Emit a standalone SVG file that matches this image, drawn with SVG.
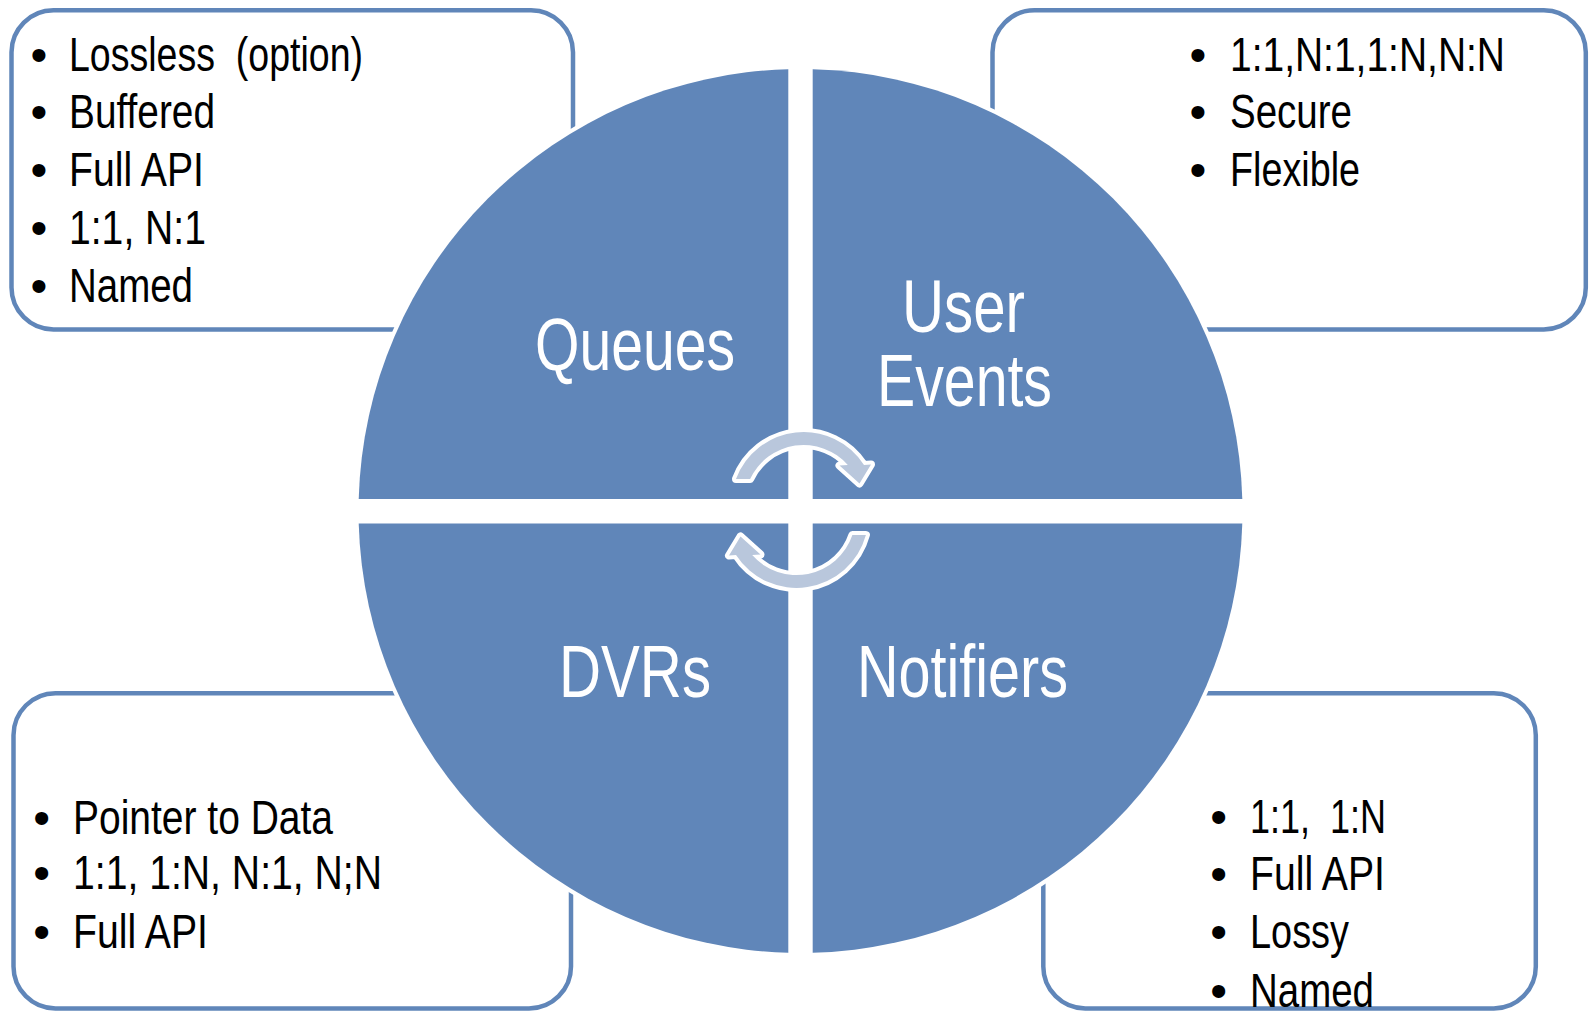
<svg xmlns="http://www.w3.org/2000/svg" width="1591" height="1013" viewBox="0 0 1591 1013">
<style>
.box{fill:#ffffff;stroke:#6086B9;stroke-width:4.5}
.quad{fill:#6086B9;stroke:#ffffff;stroke-width:8;paint-order:stroke}
.t{font-family:"Liberation Sans Narrow","Arial Narrow","Liberation Sans",Arial,sans-serif;font-size:49px;fill:#000000;white-space:pre}
.b{font-family:"Liberation Sans",Arial,sans-serif;font-size:48px;fill:#000000;text-anchor:middle}
.lbl{font-family:"Liberation Sans Narrow","Arial Narrow","Liberation Sans",Arial,sans-serif;font-size:75px;fill:#ffffff;text-anchor:middle}
.arr{fill:#B9C7DC;stroke:#ffffff;stroke-width:8;paint-order:stroke;stroke-linejoin:round}
</style>
<rect x="0" y="0" width="1591" height="1013" fill="#ffffff"/>

<g id="box-queues">
<rect class="box" x="11.5" y="10.3" width="561.5" height="319.2" rx="42" ry="42"/>
<text class="b" x="39" y="71">•</text><text class="t" x="69" y="71" textLength="294" lengthAdjust="spacingAndGlyphs">Lossless  (option)</text>
<text class="b" x="39" y="128">•</text><text class="t" x="69" y="128" textLength="146" lengthAdjust="spacingAndGlyphs">Buffered</text>
<text class="b" x="39" y="185.5">•</text><text class="t" x="69" y="185.5" textLength="135" lengthAdjust="spacingAndGlyphs">Full API</text>
<text class="b" x="39" y="244">•</text><text class="t" x="69" y="244" textLength="137" lengthAdjust="spacingAndGlyphs">1:1, N:1</text>
<text class="b" x="39" y="301.5">•</text><text class="t" x="69" y="301.5" textLength="124" lengthAdjust="spacingAndGlyphs">Named</text>
</g>

<g id="box-userevents">
<rect class="box" x="992.5" y="10.3" width="593.3" height="319.2" rx="42" ry="42"/>
<text class="b" x="1198" y="71">•</text><text class="t" x="1230" y="71" textLength="275" lengthAdjust="spacingAndGlyphs">1:1,N:1,1:N,N:N</text>
<text class="b" x="1198" y="128">•</text><text class="t" x="1230" y="128" textLength="122" lengthAdjust="spacingAndGlyphs">Secure</text>
<text class="b" x="1198" y="185.5">•</text><text class="t" x="1230" y="185.5" textLength="130" lengthAdjust="spacingAndGlyphs">Flexible</text>
</g>

<g id="box-dvrs">
<rect class="box" x="13.5" y="693.2" width="557.5" height="315.2" rx="42" ry="42"/>
<text class="b" x="41.6" y="834">•</text><text class="t" x="73" y="834" textLength="260" lengthAdjust="spacingAndGlyphs">Pointer to Data</text>
<text class="b" x="41.6" y="889">•</text><text class="t" x="73" y="889" textLength="309" lengthAdjust="spacingAndGlyphs">1:1, 1:N, N:1, N;N</text>
<text class="b" x="41.6" y="948">•</text><text class="t" x="73" y="948" textLength="135" lengthAdjust="spacingAndGlyphs">Full API</text>
</g>

<g id="box-notifiers">
<rect class="box" x="1043.3" y="693.2" width="492.5" height="315.2" rx="42" ry="42"/>
<text class="b" x="1218.6" y="833">•</text><text class="t" x="1250" y="833" textLength="136" lengthAdjust="spacingAndGlyphs">1:1,  1:N</text>
<text class="b" x="1218.6" y="890">•</text><text class="t" x="1250" y="890" textLength="135" lengthAdjust="spacingAndGlyphs">Full API</text>
<text class="b" x="1218.6" y="948">•</text><text class="t" x="1250" y="948" textLength="99" lengthAdjust="spacingAndGlyphs">Lossy</text>
<text class="b" x="1218.6" y="1006.5">•</text><text class="t" x="1250" y="1006.5" textLength="124" lengthAdjust="spacingAndGlyphs">Named</text>
</g>

<g id="node-queues">
<path class="quad" d="M 788.3,499 L 788.3,69.2 A 442 442 0 0 0 358.7,499 Z"/>
<text class="lbl" x="635" y="370" textLength="200" lengthAdjust="spacingAndGlyphs">Queues</text>
</g>
<g id="node-userevents">
<path class="quad" d="M 812.7,499 L 1242.3,499 A 442 442 0 0 0 812.7,69.2 Z"/>
<text class="lbl" x="963.5" y="332" textLength="123" lengthAdjust="spacingAndGlyphs">User</text>
<text class="lbl" x="964.5" y="406" textLength="175" lengthAdjust="spacingAndGlyphs">Events</text>
</g>
<g id="node-dvrs">
<path class="quad" d="M 788.3,523.5 L 358.7,523.5 A 442 442 0 0 0 788.3,952.8 Z"/>
<text class="lbl" x="635" y="697" textLength="152" lengthAdjust="spacingAndGlyphs">DVRs</text>
</g>
<g id="node-notifiers">
<path class="quad" d="M 812.7,523.5 L 812.7,952.8 A 442 442 0 0 0 1242.3,523.5 Z"/>
<text class="lbl" x="962.5" y="697" textLength="211" lengthAdjust="spacingAndGlyphs">Notifiers</text>
</g>

<g id="connectors">
<path class="arr" d="M 736,479 A 72 72 0 0 1 864,465 L 871,464.5 L 859.5,483.5 L 839.5,465.5 L 847.8,465 A 59 59 0 0 0 750.1,479 Z"/>
<path class="arr" d="M 852.4,535 A 59 59 0 0 1 752.2,555 L 760.5,554.5 L 740.5,536.5 L 729,555.5 L 736,555 A 72 72 0 0 0 865.9,535 Z"/>
</g>
</svg>
